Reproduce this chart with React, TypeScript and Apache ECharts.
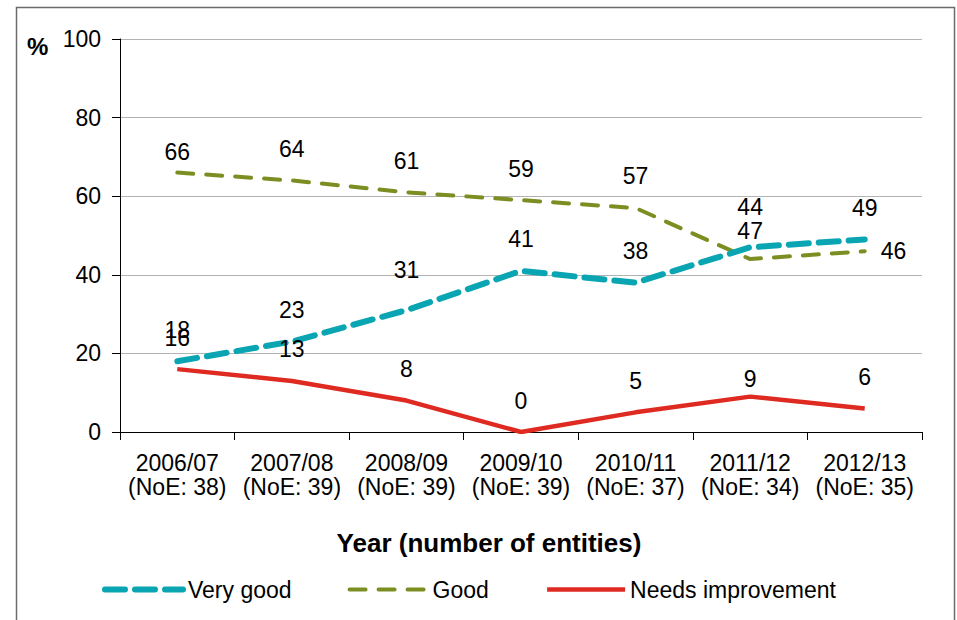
import React, { useEffect, useRef } from "react";
import * as echarts from "echarts";

const categories = [
  "2006/07\n(NoE: 38)",
  "2007/08\n(NoE: 39)",
  "2008/09\n(NoE: 39)",
  "2009/10\n(NoE: 39)",
  "2010/11\n(NoE: 37)",
  "2011/12\n(NoE: 34)",
  "2012/13\n(NoE: 35)",
];
const veryGood = [18, 23, 31, 41, 38, 47, 49];
const good = [66, 64, 61, 59, 57, 44, 46];
const needsImprovement = [16, 13, 8, 0, 5, 9, 6];
const yTicks = { min: 0, max: 100, interval: 20 };

const FONT = "Liberation Sans, Arial, sans-serif";

const VG = { color: "#0aa5b2", width: 6, type: [20, 10] as any, cap: "round" };
const GD = { color: "#7b8e22", width: 4, type: [16, 13] as any, cap: "round" };
const NI = { color: "#df2a21", width: 4.5, type: "solid" };

export default function App() {
  const ref = useRef<HTMLDivElement>(null);
  useEffect(() => {
    if (!ref.current) return;
    const chart = echarts.init(ref.current, null, { renderer: "svg" });
    const baseLabel = {
      show: true,
      position: "top",
      distance: 20,
      color: "#000",
      fontSize: 23,
      fontFamily: FONT,
    };
    const withOverrides = (vals: number[], ov: Record<number, any>) =>
      vals.map((v, i) => (ov[i] ? { value: v, label: ov[i] } : v));

    chart.setOption({
      animation: false,
      textStyle: { fontFamily: FONT },
      grid: { left: 120, right: 35, top: 39, bottom: 188 },
      xAxis: {
        type: "category",
        data: categories,
        boundaryGap: true,
        axisLine: { show: true, lineStyle: { color: "#000", width: 1 } },
        axisTick: { show: true, length: 8, lineStyle: { color: "#000" } },
        axisLabel: {
          color: "#000",
          fontSize: 23,
          fontFamily: FONT,
          margin: 19,
          lineHeight: 24,
          interval: 0,
        },
      },
      yAxis: {
        type: "value",
        min: yTicks.min,
        max: yTicks.max,
        interval: yTicks.interval,
        axisLine: { show: true, lineStyle: { color: "#000", width: 1 } },
        axisTick: { show: true, length: 8, lineStyle: { color: "#000" } },
        axisLabel: { color: "#000", fontSize: 23, fontFamily: FONT, margin: 19 },
        splitLine: { show: true, lineStyle: { color: "#b3b3b3", width: 1 } },
      },
      legend: {
        top: 573,
        left: 97,
        itemWidth: 78,
        itemHeight: 14,
        itemGap: 56,
        itemStyle: { opacity: 0 },
        textStyle: { color: "#000", fontSize: 23, fontFamily: FONT },
        data: [
          { name: "Very good", lineStyle: VG },
          { name: "Good", lineStyle: GD },
          { name: "Needs improvement", lineStyle: NI },
        ],
      },
      graphic: [
        {
          type: "rect",
          shape: { x: 16.5, y: 7.5, width: 938, height: 640 },
          style: { fill: "none", stroke: "#6b6b6b", lineWidth: 1.5 },
          silent: true,
        },
        {
          type: "text",
          x: 27,
          y: 34,
          style: {
            text: "%",
            fill: "#000",
            font: `bold 24px ${FONT}`,
          },
        },
        {
          type: "text",
          x: 489,
          y: 543,
          style: {
            text: "Year (number of entities)",
            fill: "#000",
            font: `bold 26px ${FONT}`,
            align: "center",
            verticalAlign: "middle",
          },
        },
      ],
      series: [
        {
          name: "Very good",
          type: "line",
          data: withOverrides(veryGood, {
            2: { distance: 29 },
            5: { distance: 5 },
          }),
          symbol: "circle",
          symbolSize: 0,
          showSymbol: true,
          lineStyle: VG,
          itemStyle: { color: VG.color },
          label: baseLabel,
          z: 3,
        },
        {
          name: "Good",
          type: "line",
          data: withOverrides(good, {
            0: { distance: 9 },
            5: { distance: 41 },
            6: { position: "right", distance: 16 },
          }),
          symbol: "circle",
          symbolSize: 0,
          showSymbol: true,
          lineStyle: GD,
          itemStyle: { color: GD.color },
          label: baseLabel,
          z: 2,
        },
        {
          name: "Needs improvement",
          type: "line",
          data: withOverrides(needsImprovement, {
            5: { distance: 6 },
          }),
          symbol: "circle",
          symbolSize: 0,
          showSymbol: true,
          lineStyle: NI,
          itemStyle: { color: NI.color },
          label: baseLabel,
          z: 4,
        },
      ],
    });
    return () => chart.dispose();
  }, []);
  return (
    <div
      ref={ref}
      style={{ position: "fixed", left: 0, top: 0, width: 957, height: 620, background: "#fff" }}
    />
  );
}
